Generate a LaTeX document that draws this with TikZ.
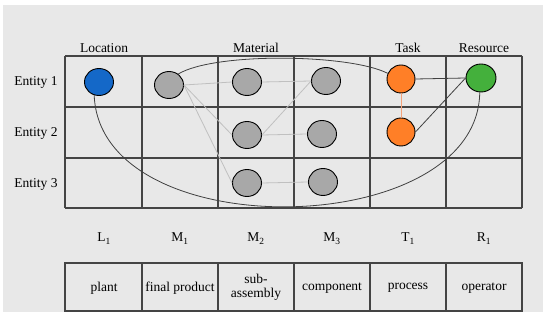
\documentclass[tikz,border=0pt]{standalone}
\usepackage{fontspec}
\setmainfont{Liberation Serif}
\usetikzlibrary{shapes.geometric}
\definecolor{bg}{HTML}{E8E8E8}
\definecolor{gridc}{HTML}{444444}
\definecolor{cblue}{HTML}{1468C8}
\definecolor{cgray}{HTML}{A8A8A8}
\definecolor{corange}{HTML}{FF7F27}
\definecolor{cgreen}{HTML}{44B03C}
\definecolor{lgray}{HTML}{C0C0C0}
\definecolor{lorange}{HTML}{F4A27A}
\tikzset{
  ent/.style={ellipse, draw=black, line width=0.9pt, minimum width=29pt, minimum height=27pt, inner sep=0pt},
  loc/.style={ent, fill=cblue},
  mat/.style={ent, fill=cgray},
  tsk/.style={ent, fill=corange, minimum width=28pt, minimum height=28pt},
  res/.style={ent, fill=cgreen, minimum width=30pt, minimum height=28pt},
  lbl/.style={font=\fontsize{13.5}{15}\selectfont, inner sep=0pt, anchor=base},
  boxtxt/.style={font=\fontsize{13.5}{14}\selectfont, inner sep=0pt, align=center},
  gridl/.style={draw=gridc, line width=1.5pt},
  gridt/.style={draw=gridc, line width=2.2pt},
  thin/.style={draw=lgray, line width=0.8pt},
  dark/.style={draw=black!75, line width=0.8pt},
}
\begin{document}
\begin{tikzpicture}[x=1pt,y=-1pt]
\useasboundingbox (0,0) rectangle (550,320);
\fill[bg] (3,5) rectangle (543,312);
% grid
\foreach \yy in {56,107,158} \draw[gridl] (65,\yy) -- (522,\yy);
\draw[gridt] (65,208) -- (522,208);
\foreach \xx in {65,218,294,522} \draw[gridl] (\xx,56) -- (\xx,208);
\foreach \xx in {142,370,446} \draw[gridt] (\xx,56) -- (\xx,208);
% headers
\node[lbl] (hL) at (104,53) {Location};
\node[lbl] (hM) at (256,53) {Material};
\node[lbl] (hT) at (408,53) {Task};
\node[lbl] (hR) at (484,53) {Resource};
\node[lbl] (e1) at (36,86) {Entity 1};
\node[lbl] (e2) at (36,137) {Entity 2};
\node[lbl] (e3) at (36,188) {Entity 3};
% nodes
\node[loc] (L1) at (99,82) {};
\node[mat] (M1) at (169,85) {};
\node[mat] (M2a) at (247,82) {};
\node[mat] (M2b) at (247,135) {};
\node[mat] (M2c) at (247,183) {};
\node[mat] (M3a) at (326,81) {};
\node[mat] (M3b) at (322,134) {};
\node[mat] (M3c) at (323,182) {};
\node[tsk] (T1) at (401,79) {};
\node[tsk] (T2) at (401,132) {};
\node[res] (R1) at (481,78) {};
% light edges
\draw[thin] (M1.east) -- (M2a.west);
\draw[thin] (M1.east) -- (M2b.west);
\draw[thin] (M1.east) -- (M2c.west);
\draw[thin] (M2a.east) -- (M3a.west);
\draw[thin] (M2b.east) -- (M3a.west);
\draw[thin] (M2b.east) -- (M3b.west);
\draw[thin] (M2c.east) -- (M3c.west);
\draw[draw=lorange, line width=0.8pt] (T1.south) -- (T2.north);
\draw[dark] (T1.east) -- (R1.west);
\draw[dark] (T2.east) -- (R1.west);
% curves
\draw[dark] (M1.50) .. controls (215,52) and (350,54) .. (T1.157);
\draw[dark] (L1.250) .. controls (100,248) and (478,241) .. (R1.265);
% bottom labels
\node[lbl] (l1) at (104,242) {L\textsubscript{1}};
\node[lbl] (l2) at (180,242) {M\textsubscript{1}};
\node[lbl] (l3) at (256,242) {M\textsubscript{2}};
\node[lbl] (l4) at (332,242) {M\textsubscript{3}};
\node[lbl] (l5) at (408,242) {T\textsubscript{1}};
\node[lbl] (l6) at (484,242) {R\textsubscript{1}};
% bottom boxes
\draw[gridl] (65,263) rectangle (522,311);
\foreach \xx in {142,218,294,370,446} \draw[gridl] (\xx,263) -- (\xx,311);
\node[boxtxt] (b1) at (104,288) {plant};
\node[boxtxt] (b2) at (180,288) {final product};
\node[boxtxt] (b3) at (256,287) {sub-\\assembly};
\node[boxtxt] (b4) at (332,288) {component};
\node[boxtxt] (b5) at (408,288) {process};
\node[boxtxt] (b6) at (484,288) {operator};
\end{tikzpicture}
\end{document}
